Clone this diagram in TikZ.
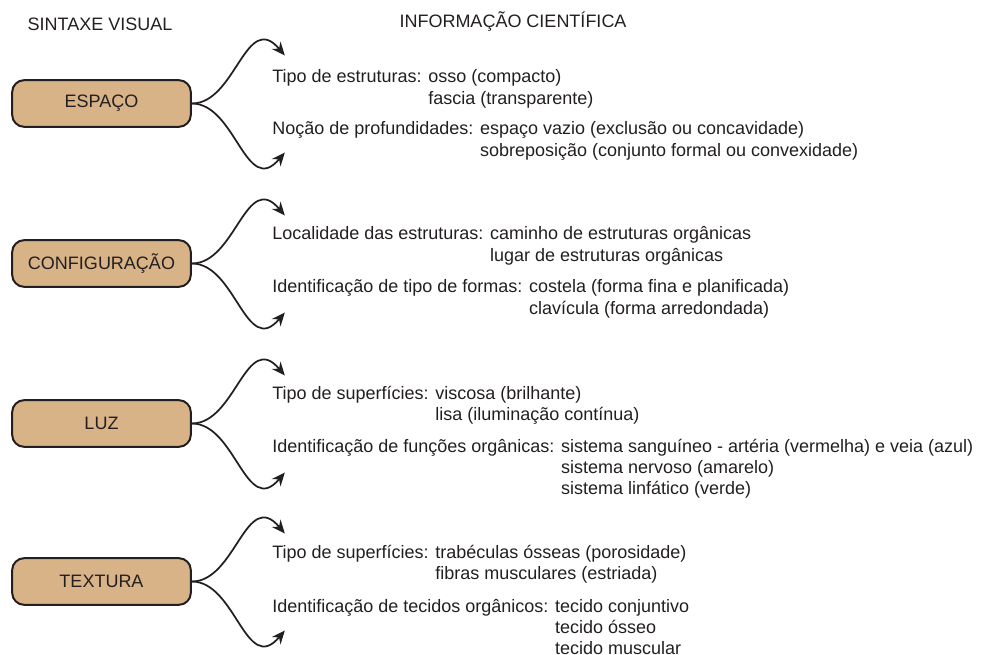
\documentclass[tikz,border=0pt]{standalone}
\usepackage{fontspec}
\setmainfont{Liberation Sans}
\usepackage{tikz}
\usetikzlibrary{
arrows.meta,
positioning,
calc
}
\definecolor{caixa}{HTML}{D8B387}
\definecolor{tinta}{HTML}{231F20}

\begin{document}
\begin{tikzpicture}[x=0.75pt,y=-0.75pt,
    sintaxe/.style={draw=tinta, line width=1.5pt, fill=caixa, rounded corners=9pt,
      minimum width=134pt, minimum height=35pt, inner sep=0pt, text=tinta},
    seta/.style={-{Stealth[length=10pt,width=8.5pt]}, line width=1.3pt, draw=tinta},
    info/.style={anchor=base west, inner sep=0pt, text=tinta},
    titulo/.style={anchor=base, inner sep=0pt, text=tinta}]
    \fontsize{13.5}{16.1}\selectfont
    \useasboundingbox (0,0) rectangle (987,655);
    \node[titulo] (tsint) at (100,31) {SINTAXE VISUAL};
    \node[titulo] (tinfo) at (513,28) {INFORMAÇÃO CIENTÍFICA};
    % caixas da esquerda
    \node[sintaxe] (espaco) at (101.5,103.5) {ESPAÇO};
    \node[sintaxe] (config) at (101.5,263.5) {CONFIGURAÇÃO};
    \node[sintaxe] (luz) at (101.5,423.5) {LUZ};
    \node[sintaxe] (textura) at (101.5,581.5) {TEXTURA};
    % setas
    \foreach \c in {espaco,config,luz,textura}{
      \coordinate (\c-a) at ($(\c.east)+(93,-48)$);
      \coordinate (\c-b) at ($(\c.east)+(93,49)$);
      \draw[seta] (\c.east) .. controls +(44,0) and +(-39,-46) .. (\c-a);
      \draw[seta] (\c.east) .. controls +(44,0) and +(-39,46) .. (\c-b);
    }
    % textos
    \node[info] (e1) at (272,83) {\begin{tabular}[t]{@{}l@{ }l@{}}
      Tipo de estruturas: & osso (compacto)\\ & fascia (transparente)\end{tabular}};
    \node[info] (e2) at (272,135) {\begin{tabular}[t]{@{}l@{ }l@{}}
      Noção de profundidades: & espaço vazio (exclusão ou concavidade)\\
      & sobreposição (conjunto formal ou convexidade)\end{tabular}};
    \node[info] (c1) at (272,240) {\begin{tabular}[t]{@{}l@{ }l@{}}
      Localidade das estruturas: & caminho de estruturas orgânicas\\
      & lugar de estruturas orgânicas\end{tabular}};
    \node[info] (c2) at (272,293) {\begin{tabular}[t]{@{}l@{ }l@{}}
      Identificação de tipo de formas: & costela (forma fina e planificada)\\
      & clavícula (forma arredondada)\end{tabular}};
    \node[info] (l1) at (272,399) {\begin{tabular}[t]{@{}l@{ }l@{}}
      Tipo de superfícies: & viscosa (brilhante)\\
      & lisa (iluminação contínua)\end{tabular}};
    \node[info] (l2) at (272,452) {\begin{tabular}[t]{@{}l@{ }l@{}}
      Identificação de funções orgânicas: & sistema sanguíneo - artéria (vermelha) e veia (azul)\\
      & sistema nervoso (amarelo)\\
      & sistema linfático (verde)\end{tabular}};
    \node[info] (t1) at (272,558) {\begin{tabular}[t]{@{}l@{ }l@{}}
      Tipo de superfícies: & trabéculas ósseas (porosidade)\\
      & fibras musculares (estriada)\end{tabular}};
    \node[info] (t2) at (272,612) {\begin{tabular}[t]{@{}l@{ }l@{}}
      Identificação de tecidos orgânicos: & tecido conjuntivo\\
      & tecido ósseo\\
      & tecido muscular\end{tabular}};
\end{tikzpicture}
\end{document}
